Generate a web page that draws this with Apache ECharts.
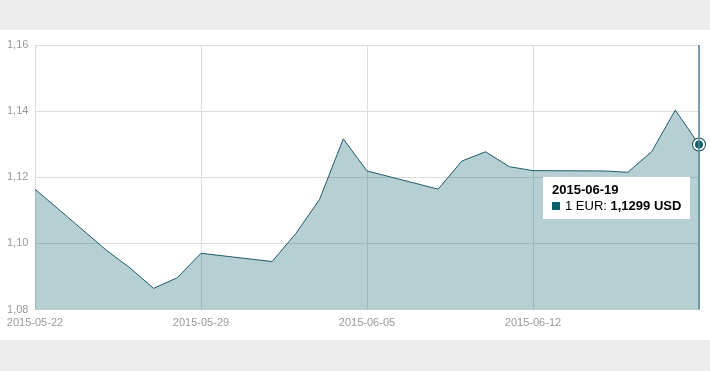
<!DOCTYPE html>
<html>
<head>
<meta charset="utf-8">
<script src="https://cdn.jsdelivr.net/npm/echarts@6/dist/echarts.min.js"></script>
<style>
html,body{margin:0;padding:0;background:#ececec;width:710px;height:371px;overflow:hidden;}
#panel{position:absolute;left:0;top:30px;width:710px;height:310px;background:#fff;}
#chart{position:absolute;left:0;top:0;width:710px;height:371px;}
</style>
</head>
<body>
<div id="panel"></div>
<div id="chart"></div>
<script>
const startDate = '2015-05-22';
const endDate = '2015-06-19';
const dates = ['2015-05-22','2015-05-25','2015-05-26','2015-05-27','2015-05-28','2015-05-29',
  '2015-06-01','2015-06-02','2015-06-03','2015-06-04','2015-06-05',
  '2015-06-08','2015-06-09','2015-06-10','2015-06-11','2015-06-12',
  '2015-06-15','2015-06-16','2015-06-17','2015-06-18','2015-06-19'];
const values = [1.1164,1.0980,1.0926,1.0864,1.0896,1.0970,
  1.0945,1.1030,1.1133,1.1316,1.1219,
  1.1164,1.1249,1.1277,1.1232,1.1220,
  1.1219,1.1215,1.1277,1.1403,1.1299];
const yTicks = [1.08, 1.10, 1.12, 1.14, 1.16];
const seriesLabel = '1 EUR';
const unit = 'USD';

const DAY = 86400000;
const t0 = Date.parse(startDate + 'T00:00:00Z');
const dayOf = d => Math.round((Date.parse(d + 'T00:00:00Z') - t0) / DAY);
const dateOf = n => new Date(t0 + n * DAY).toISOString().slice(0, 10);
const spanDays = dayOf(endDate);
const points = dates.map((d, i) => [dayOf(d), values[i]]);
const lastIdx = points.length - 1;
const fmt = v => v.toFixed(4).replace('.', ',');

const teal = '#0e5f6e';
const font = "'Liberation Sans', Arial, Helvetica, sans-serif";

const chart = echarts.init(document.getElementById('chart'), null, {renderer: 'canvas'});
chart.setOption({
  animation: false,
  backgroundColor: 'transparent',
  grid: {left: 35, right: 11, top: 45, bottom: 61.5},
  tooltip: {
    trigger: 'axis',
    triggerOn: 'none',
    alwaysShowContent: true,
    backgroundColor: '#fff',
    borderWidth: 0,
    padding: [5, 9],
    extraCssText: 'box-shadow:none;border-radius:0;',
    position: function () { return [543, 177]; },
    axisPointer: {type: 'line', lineStyle: {color: '#4f8790', width: 1.5, type: 'solid'}, label: {show: false}},
    formatter: function (params) {
      const p = params.find(q => q.seriesIndex === 0) || params[0];
      const x = p.data[0], v = p.data[1];
      return '<div style="font-family:' + font.replace(/'/g, '') + ';font-size:13px;line-height:16px;color:#000">' +
        '<div style="font-weight:bold">' + dateOf(x) + '</div>' +
        '<span style="display:inline-block;width:8px;height:8px;background:' + teal + ';margin-right:5px;vertical-align:0px"></span>' +
        seriesLabel + ': <b>' + fmt(v) + ' ' + unit + '</b></div>';
    }
  },
  xAxis: {
    type: 'value',
    min: 0,
    max: spanDays,
    interval: 7,
    axisLine: {show: false},
    axisTick: {show: false},
    splitLine: {show: true, lineStyle: {color: '#dcdcdc', width: 1}},
    axisLabel: {
      color: '#999', fontSize: 11, fontFamily: font, margin: 8,
      formatter: v => v >= spanDays ? '' : dateOf(v)
    }
  },
  yAxis: {
    type: 'value',
    min: yTicks[0],
    max: yTicks[yTicks.length - 1],
    interval: 0.02,
    axisLine: {show: false},
    axisTick: {show: false},
    splitLine: {show: true, lineStyle: {color: '#dcdcdc', width: 1}},
    axisLabel: {
      color: '#999', fontSize: 11, fontFamily: font, align: 'left', margin: 28,
      formatter: v => v.toFixed(2).replace('.', ',')
    }
  },
  series: [
    {
      name: seriesLabel,
      type: 'line',
      data: points,
      symbol: 'none',
      lineStyle: {color: '#1d5c66', width: 1},
      areaStyle: {color: teal, opacity: 0.3},
      emphasis: {disabled: true},
      z: 2
    },
    {
      type: 'scatter',
      data: [points[lastIdx]],
      symbol: 'circle',
      symbolSize: 14,
      itemStyle: {color: '#1d4f58', opacity: 1},
      silent: true,
      emphasis: {disabled: true},
      z: 5
    },
    {
      type: 'scatter',
      data: [points[lastIdx]],
      symbol: 'circle',
      symbolSize: 10,
      itemStyle: {color: teal, borderColor: '#fff', borderWidth: 2, opacity: 1},
      silent: true,
      emphasis: {disabled: true},
      z: 6
    }
  ]
});
chart.dispatchAction({type: 'showTip', seriesIndex: 0, dataIndex: lastIdx});
</script>
</body>
</html>
